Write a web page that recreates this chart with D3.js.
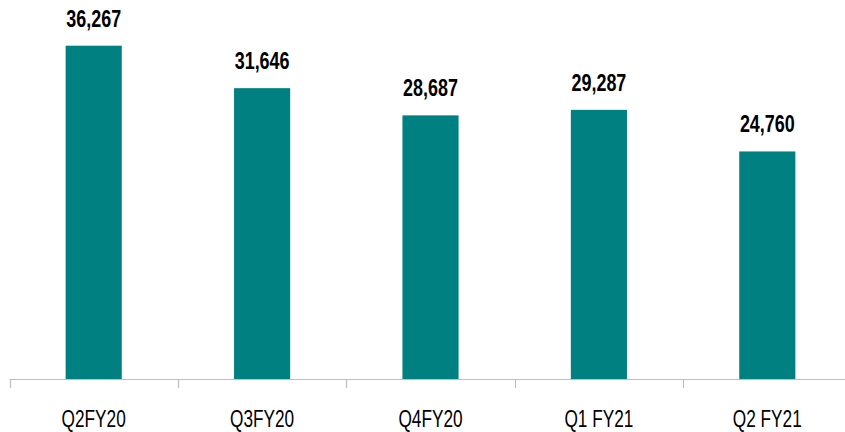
<!DOCTYPE html>
<html><head><meta charset="utf-8">
<script src="https://cdn.jsdelivr.net/npm/d3@7"></script>
<style>body{margin:0;background:#fff}</style>
</head><body>
<svg id="c" width="845" height="432"></svg>
<script>
const categories = ["Q2FY20","Q3FY20","Q4FY20","Q1 FY21","Q2 FY21"];
const values = [36267, 31646, 28687, 29287, 24760];

const svg = d3.select("#c");
const x = d3.scaleBand().domain(categories).range([9.5, 851.5]).paddingInner(2/3).paddingOuter(1/3);
const y = d3.scaleLinear().domain([0, 36267]).range([379, 45.7]);
const step = x.step();
const font = "'Liberation Sans',Arial,sans-serif";

svg.selectAll("rect.bar").data(values).enter().append("rect")
  .attr("x",(d,i)=>x(categories[i])).attr("width",x.bandwidth())
  .attr("y",d=>y(d)).attr("height",d=>y(0)-y(d)).attr("fill","#008080");

// axis
svg.append("line").attr("x1",9.5).attr("x2",851.5).attr("y1",379.5).attr("y2",379.5)
  .attr("stroke","#bfbfbf").attr("stroke-width",1.2);
d3.range(categories.length+1).forEach(i=>{
  const tx = Math.round(9.5 + i*step)+0.5;
  svg.append("line").attr("x1",tx).attr("x2",tx).attr("y1",379.5).attr("y2",388)
    .attr("stroke","#bfbfbf").attr("stroke-width",1.2);
});

svg.selectAll("text.val").data(values).enter().append("text")
  .attr("transform",(d,i)=>`translate(${x(categories[i])+x.bandwidth()/2},${y(d)-19}) scale(0.78,1)`)
  .attr("text-anchor","middle").attr("font-family",font).attr("font-weight","bold")
  .attr("font-size",23).attr("fill","#000")
  .text(d=>d3.format(",")(d));

svg.selectAll("text.cat").data(categories).enter().append("text")
  .attr("transform",d=>`translate(${x(d)+x.bandwidth()/2},426.5) scale(0.75,1)`)
  .attr("text-anchor","middle").attr("font-family",font)
  .attr("font-size",23).attr("fill","#000")
  .text(d=>d);
</script>
</body></html>
